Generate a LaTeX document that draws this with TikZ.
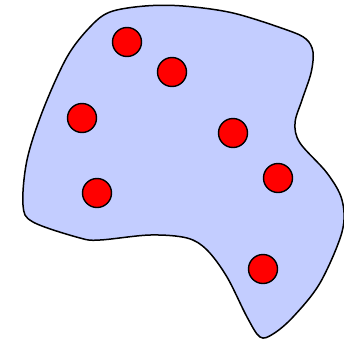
\documentclass[tikz,border=0pt]{standalone}
\begin{document}
\begin{tikzpicture}[x=1pt,y=-1pt,
  blob/.style={draw=black,line width=1.5pt,fill={rgb,255:red,195;green,205;blue,255}},
  dot/.style={circle,draw=black,line width=1.4pt,fill=red,minimum size=29pt,inner sep=0pt}]
\useasboundingbox (0,0) rectangle (344,340);
\draw[blob] plot[smooth cycle,tension=0.55] coordinates {
 (183,6) (233,13) (287,30) (306,39) (313,52) (311,73) (302,100) (295,123) (300,143)
 (327,173) (342,200) (342,232) (320,283) (293,317) (273,334) (260,337) (247,317) (227,277)
 (207,250) (187,238) (150,235) (100,240) (80,238) (33,222) (23,205) (27,160) (43,110)
 (67,57) (90,27) (110,12) (145,6)};
\node[dot] (c1) at (127,42) {};
\node[dot] (c2) at (172,72) {};
\node[dot] (c3) at (82,118) {};
\node[dot] (c4) at (233,133) {};
\node[dot] (c5) at (97,193) {};
\node[dot] (c6) at (278,178) {};
\node[dot] (c7) at (263,269) {};
\end{tikzpicture}
\end{document}
